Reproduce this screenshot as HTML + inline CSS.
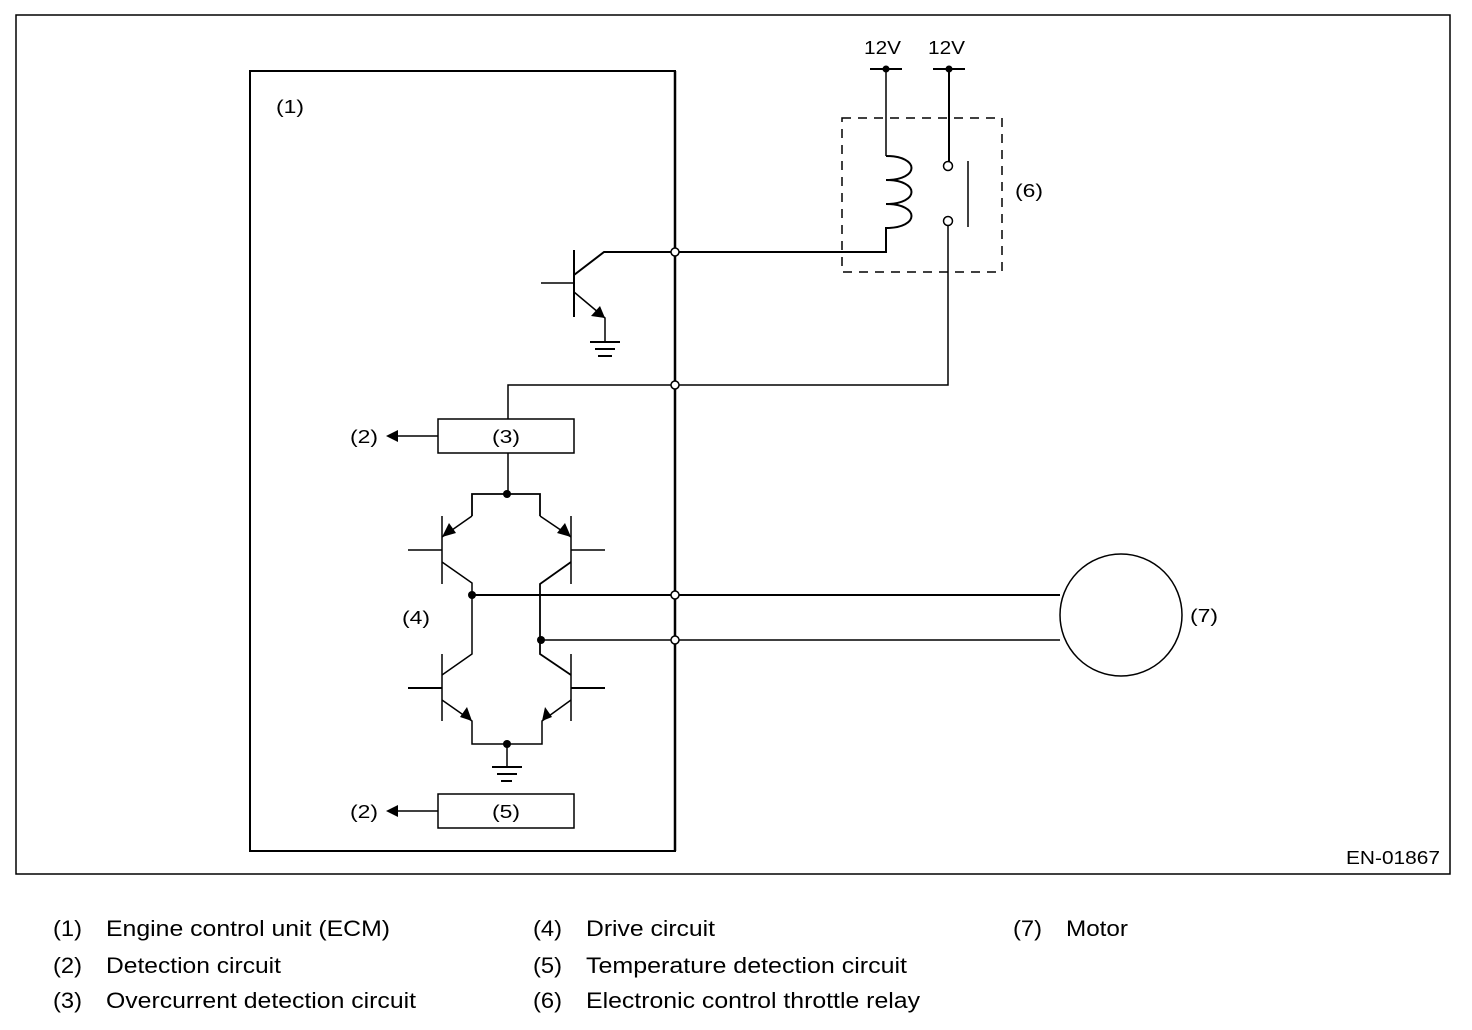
<!DOCTYPE html>
<html><head><style>
body{margin:0;background:#fff;}
svg{display:block;font-family:"Liberation Sans",sans-serif;}
</style></head><body>
<svg width="1472" height="1030" viewBox="0 0 1472 1030" xmlns="http://www.w3.org/2000/svg">
<g fill="none" stroke="#000" stroke-width="1.5">
<rect x="16" y="15" width="1434" height="859"/>
<rect x="250" y="71" width="425" height="780" stroke-width="2"/>
<line x1="675" y1="71" x2="675" y2="851" stroke-width="2.5"/>
<rect x="438" y="419" width="136" height="34"/>
<rect x="438" y="794" width="136" height="34"/>
<rect x="842" y="118" width="160" height="154" stroke-dasharray="9,7"/>
<line x1="870" y1="69" x2="902" y2="69" stroke-width="2"/>
<line x1="933" y1="69" x2="965" y2="69" stroke-width="2"/>
<line x1="886" y1="69" x2="886" y2="156"/>
<path d="M886 156 C920 156 920 180 886 180 C920 180 920 204 886 204 C920 204 920 228 886 228 L886 252 L675 252" stroke-width="2"/>
<line x1="949" y1="69" x2="949" y2="162" stroke-width="2"/>
<line x1="968" y1="161" x2="968" y2="227"/>
<path d="M948 225 L948 385 L508 385 L508 419"/>
<line x1="574" y1="250" x2="574" y2="317" stroke-width="2"/>
<line x1="541" y1="283" x2="574" y2="283"/>
<path d="M574 275 L604 252 L675 252" stroke-width="2"/>
<path d="M574 292 L605 318 L605 342"/>
<line x1="590" y1="342" x2="620" y2="342" stroke-width="2"/>
<line x1="595" y1="349" x2="615" y2="349" stroke-width="2"/>
<line x1="598" y1="356" x2="612" y2="356" stroke-width="2"/>
<line x1="508" y1="453" x2="508" y2="494"/>
<path d="M472 516 L472 494 L540 494 L540 516" stroke-width="1.8"/>
<line x1="442" y1="516" x2="442" y2="584"/>
<line x1="408" y1="550" x2="442" y2="550"/>
<line x1="472" y1="516" x2="442" y2="537"/>
<path d="M442 562 L472 583 L472 654 L442 675"/>
<line x1="571" y1="516" x2="571" y2="584"/>
<line x1="571" y1="550" x2="605" y2="550"/>
<line x1="540" y1="516" x2="571" y2="537"/>
<path d="M571 562 L540 584 L540 654 L571 675" stroke-width="1.8"/>
<line x1="442" y1="654" x2="442" y2="721"/>
<line x1="408" y1="688" x2="442" y2="688" stroke-width="2"/>
<line x1="571" y1="654" x2="571" y2="721"/>
<line x1="571" y1="688" x2="605" y2="688" stroke-width="2"/>
<path d="M442 700 L472 721 L472 744 L542 744 L542 721 L571 700"/>
<line x1="507" y1="744" x2="507" y2="767"/>
<line x1="492" y1="767" x2="522" y2="767" stroke-width="2"/>
<line x1="497" y1="774" x2="517" y2="774" stroke-width="2"/>
<line x1="501" y1="781" x2="512" y2="781" stroke-width="2"/>
<line x1="472" y1="595" x2="1060" y2="595" stroke-width="2"/>
<line x1="540" y1="640" x2="1060" y2="640"/>
<circle cx="1121" cy="615" r="61"/>
<line x1="438" y1="436" x2="398" y2="436"/>
<line x1="438" y1="811" x2="398" y2="811"/>
</g>
<g fill="#000">
<circle cx="886" cy="69" r="3.5"/><circle cx="949" cy="69" r="3.5"/>
<circle cx="507" cy="494" r="4"/><circle cx="472" cy="595" r="4"/>
<circle cx="541" cy="640" r="4"/><circle cx="507" cy="744" r="4"/>
<polygon points="605,318 591,316 600,306"/>
<polygon points="442,537 449,523 456,533"/>
<polygon points="571,537 557,533 565,523"/>
<polygon points="472,721 460,717 467,707"/>
<polygon points="542,721 545,707 552,717"/>
<polygon points="386,436 398,430 398,442"/>
<polygon points="386,811 398,805 398,817"/>
</g>
<g fill="#fff" stroke="#000" stroke-width="1.5">
<circle cx="948" cy="166" r="4.5"/><circle cx="948" cy="221" r="4.5"/>
<circle cx="675" cy="252" r="4"/><circle cx="675" cy="385" r="4"/>
<circle cx="675" cy="595" r="4"/><circle cx="675" cy="640" r="4"/>
</g>
<g font-size="18" fill="#000">
<text x="864" y="54" textLength="37" lengthAdjust="spacingAndGlyphs">12V</text><text x="928" y="54" textLength="37" lengthAdjust="spacingAndGlyphs">12V</text>
<text x="276" y="113" textLength="28" lengthAdjust="spacingAndGlyphs">(1)</text>
<text x="1015" y="197" textLength="28" lengthAdjust="spacingAndGlyphs">(6)</text>
<text x="350" y="443" textLength="28" lengthAdjust="spacingAndGlyphs">(2)</text>
<text x="350" y="818" textLength="28" lengthAdjust="spacingAndGlyphs">(2)</text>
<text x="492" y="443" textLength="28" lengthAdjust="spacingAndGlyphs">(3)</text>
<text x="492" y="818" textLength="28" lengthAdjust="spacingAndGlyphs">(5)</text>
<text x="402" y="624" textLength="28" lengthAdjust="spacingAndGlyphs">(4)</text>
<text x="1190" y="622" textLength="28" lengthAdjust="spacingAndGlyphs">(7)</text>
<text x="1346" y="864" textLength="94" lengthAdjust="spacingAndGlyphs">EN-01867</text>
</g>
<g font-size="22" fill="#000">
<text x="53" y="936" textLength="29" lengthAdjust="spacingAndGlyphs">(1)</text><text x="106" y="936" textLength="284" lengthAdjust="spacingAndGlyphs">Engine control unit (ECM)</text>
<text x="53" y="973" textLength="29" lengthAdjust="spacingAndGlyphs">(2)</text><text x="106" y="973" textLength="175" lengthAdjust="spacingAndGlyphs">Detection circuit</text>
<text x="53" y="1008" textLength="29" lengthAdjust="spacingAndGlyphs">(3)</text><text x="106" y="1008" textLength="310" lengthAdjust="spacingAndGlyphs">Overcurrent detection circuit</text>
<text x="533" y="936" textLength="29" lengthAdjust="spacingAndGlyphs">(4)</text><text x="586" y="936" textLength="129" lengthAdjust="spacingAndGlyphs">Drive circuit</text>
<text x="533" y="973" textLength="29" lengthAdjust="spacingAndGlyphs">(5)</text><text x="586" y="973" textLength="321" lengthAdjust="spacingAndGlyphs">Temperature detection circuit</text>
<text x="533" y="1008" textLength="29" lengthAdjust="spacingAndGlyphs">(6)</text><text x="586" y="1008" textLength="334" lengthAdjust="spacingAndGlyphs">Electronic control throttle relay</text>
<text x="1013" y="936" textLength="29" lengthAdjust="spacingAndGlyphs">(7)</text><text x="1066" y="936" textLength="62" lengthAdjust="spacingAndGlyphs">Motor</text>
</g>
</svg>
</body></html>
